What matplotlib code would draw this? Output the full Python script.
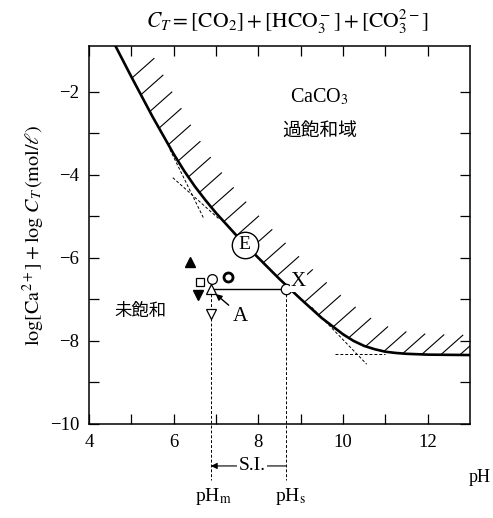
import matplotlib
matplotlib.use('Agg')
import matplotlib.pyplot as plt
import numpy as np

# saturation curve
ph_curve = [4.6, 5.0, 5.5, 6.0, 6.25, 6.5, 6.75, 7.0, 7.5, 8.0, 8.5, 9.0, 9.5,
            10.0, 10.25, 10.5, 10.75, 11.0, 11.25, 11.5, 12.0, 13.0]
logc_curve = [-0.85, -1.64, -2.60, -3.50, -3.91, -4.28, -4.61, -4.92, -5.48, -6.00,
              -6.51, -6.99, -7.45, -7.84, -8.00, -8.12, -8.20, -8.26, -8.29, -8.31,
              -8.33, -8.34]

# dashed asymptotes
tan1_ph, tan1_y = [5.91, 6.70], [-3.39, -5.03]
tan2_ph, tan2_y = [5.98, 7.09], [-4.07, -5.08]
tan3_ph, tan3_y = [9.26, 10.56], [-7.19, -8.56]
flat_ph, flat_y = [9.8, 11.0], [-8.32, -8.32]

# sample points
pts = {
    'tri_up_filled': (6.38, -6.09),
    'square': (6.62, -6.59),
    'circle': (6.90, -6.52),
    'circle_bold': (7.28, -6.47),
    'tri_down_filled': (6.57, -6.90),
    'tri_up_open': (6.88, -6.75),
    'tri_down_open': (6.88, -7.34),
}
ph_m, ph_s, y_x = 6.88, 8.65, -6.75
e_pt = (7.68, -5.68)

plt.rcParams['font.family'] = ['Liberation Serif', 'Noto Sans CJK JP']
plt.rcParams['mathtext.fontset'] = 'stix'
jp = ['Noto Sans CJK JP']

fig = plt.figure(figsize=(4.93, 5.18), dpi=100)
ax = fig.add_axes([89 / 493, 94 / 518, 381 / 493, 378 / 518])
ax.set_xlim(4, 13)
ax.set_ylim(-10, -0.9)

ax.plot(ph_curve, logc_curve, color='k', lw=1.9, zorder=3)

# hatching on the supersaturated side, done in pixel space
disp = ax.transData.transform(np.column_stack([ph_curve, logc_curve]))
s = np.concatenate([[0], np.cumsum(np.hypot(*np.diff(disp, axis=0).T))])
top = ax.transData.transform((0, -0.9))[1]
s_top = np.interp(top, disp[::-1, 1], s[::-1])
inv = ax.transData.inverted()
for t in np.arange(s_top + 36, s[-1], 19.0):
    bx = np.interp(t, s, disp[:, 0])
    by = np.interp(t, s, disp[:, 1])
    p0 = inv.transform((bx, by))
    p1 = inv.transform((bx + 22, by + 19.5))
    ax.plot([p0[0], p1[0]], [p0[1], p1[1]], color='k', lw=0.8, zorder=2)

dash = (0, (3, 2))
for xs, ys in [(tan1_ph, tan1_y), (tan2_ph, tan2_y), (tan3_ph, tan3_y), (flat_ph, flat_y)]:
    ax.plot(xs, ys, color='k', lw=0.7, ls=dash, zorder=2)

# markers
mk = dict(color='k', ls='none', zorder=5)
ax.plot(*pts['tri_up_filled'], marker='^', ms=6.5, **mk)
ax.plot(*pts['square'], marker='s', ms=6, mfc='white', mew=0.9, **mk)
ax.plot(*pts['circle'], marker='o', ms=7, mfc='white', mew=0.9, **mk)
ax.plot(*pts['circle_bold'], marker='o', ms=6.5, mfc='white', mew=2.0, **mk)
ax.plot(*pts['tri_down_filled'], marker='v', ms=6.5, **mk)
ax.plot(*pts['tri_up_open'], marker='^', ms=7, mfc='white', mew=0.9, **mk)
ax.plot(*pts['tri_down_open'], marker='v', ms=7, mfc='white', mew=0.9, **mk)

# horizontal line A -> X and drop lines
ax.plot([ph_m, ph_s], [y_x, y_x], color='k', lw=1.0, zorder=3)
ax.plot(ph_s, y_x, marker='o', ms=7.5, mfc='white', mec='k', mew=0.9, zorder=6)
ax.plot([ph_m, ph_m], [y_x, -11.35], color='k', lw=0.7, ls=dash, clip_on=False, zorder=1)
ax.plot([ph_s, ph_s], [y_x, -11.35], color='k', lw=0.7, ls=dash, clip_on=False, zorder=1)

ax.annotate('', xy=(ph_m, -11.01), xytext=(ph_s, -11.01), annotation_clip=False,
            arrowprops=dict(arrowstyle='-|>', lw=0.8, color='k', shrinkA=0, shrinkB=0,
                            mutation_scale=9))
ax.text(7.85, -11.01, 'S.I.', fontsize=14, ha='center', va='center', clip_on=False,
        bbox=dict(facecolor='white', edgecolor='none', pad=1))
ax.text(ph_m + 0.05, -11.74, r'pH$_\mathrm{m}$', fontsize=14, ha='center', va='center')
ax.text(ph_s + 0.12, -11.74, r'pH$_\mathrm{s}$', fontsize=14, ha='center', va='center')

# A arrow
ax.annotate('', xy=(6.99, -6.87), xytext=(7.30, -7.14),
            arrowprops=dict(arrowstyle='-|>', lw=1.0, color='k', shrinkA=0, shrinkB=0,
                            mutation_scale=9))
ax.text(7.58, -7.42, 'A', fontsize=15, ha='center', va='center')
ax.text(8.95, -6.58, 'X', fontsize=15, ha='center', va='center', zorder=7,
        bbox=dict(facecolor='white', edgecolor='none', pad=0.5))

# E circle
ax.plot(*e_pt, marker='o', ms=19, mfc='white', mec='k', mew=1.0, zorder=6)
ax.text(e_pt[0], e_pt[1], 'E', fontsize=14, ha='center', va='center', zorder=7)

ax.text(9.45, -2.12, r'CaCO$_3$', fontsize=14.5, ha='center', va='center')
ax.text(9.45, -2.92, '過飽和域', fontsize=13.5, ha='center', va='center', family=jp)
ax.text(5.22, -7.29, '未飽和', fontsize=12.5, ha='center', va='center', family=jp)
ax.text(469, 40, 'pH', fontsize=13, ha='left', va='center', transform=None)

fig.text(0.584, 0.957, r'$C_T=[\mathrm{CO_2}]+[\mathrm{HCO_3^-}]+[\mathrm{CO_3^{2-}}]$',
         fontsize=15.5, ha='center', va='center')

ax.set_ylabel(r'$\log[\mathrm{Ca}^{2+}]+\log\,C_T\,(\mathrm{mol}/\ell)$', fontsize=14.5, labelpad=2)

ax.set_xticks([4, 6, 8, 10, 12])
ax.set_xticks([5, 7, 9, 11], minor=True)
ax.set_yticks([-10, -8, -6, -4, -2])
ax.set_yticks([-9, -7, -5, -3], minor=True)
ax.tick_params(which='both', direction='in', length=7, width=0.9, top=True, right=True,
               labelsize=13.5, pad=7)
for sp in ax.spines.values():
    sp.set_linewidth(1.1)

fig.savefig('out.png', dpi=100)
